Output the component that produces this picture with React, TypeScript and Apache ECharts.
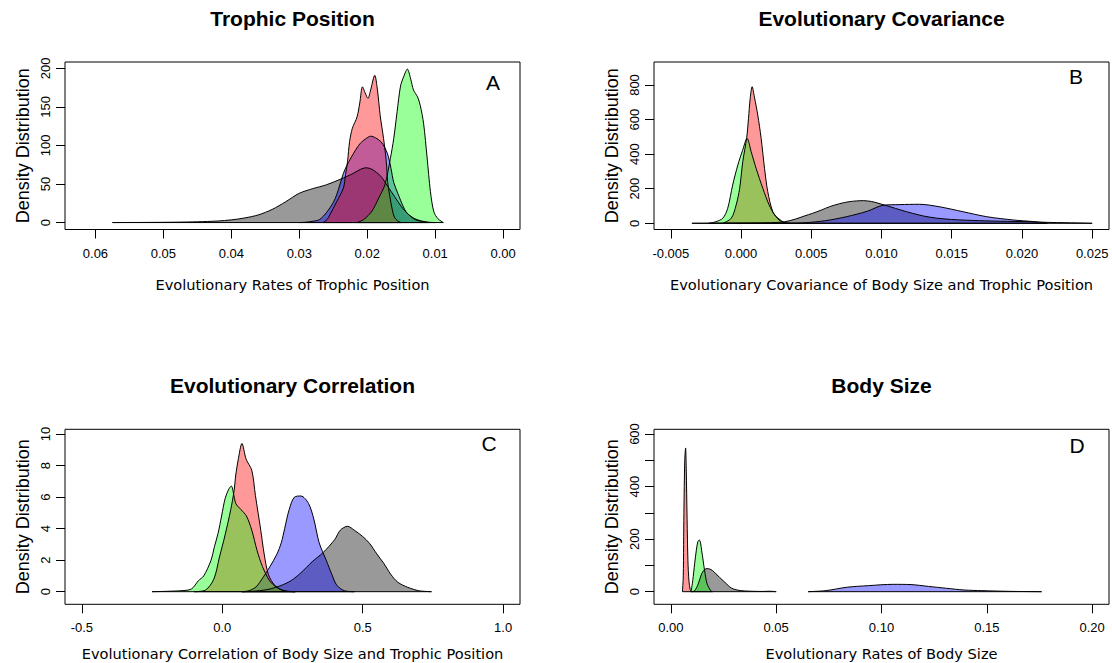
import React, { useEffect, useRef } from "react";
import * as echarts from "echarts";

// ---------- Panel A: Trophic Position ----------
const aGray: number[][] = [[0.0575,0],[0.052,0.2],[0.048,0.5],[0.045,1],[0.042,2],[0.040,3.5],[0.038,6],[0.036,10],[0.034,17],[0.032,27],[0.030,38],[0.028,44],[0.026,49],[0.024,56],[0.022,64],[0.021,69],[0.0202,71],[0.0193,69],[0.018,60],[0.017,47],[0.016,34],[0.015,21],[0.014,11],[0.013,5],[0.012,2],[0.011,0.5],[0.010,0]];
const aBlue: number[][] = [[0.030,0],[0.029,0.5],[0.028,1.7],[0.027,4],[0.026,13],[0.025,26],[0.0245,36],[0.024,50],[0.0235,64],[0.023,74],[0.022,90],[0.021,103],[0.020,110],[0.0195,112],[0.0188,110],[0.018,105],[0.0174,97],[0.0169,86],[0.0165,70],[0.0161,52],[0.0155,38],[0.0151,29],[0.0145,17],[0.014,11],[0.013,4],[0.012,1.5],[0.011,0]];
const aRed: number[][] = [[0.0265,0],[0.0259,4],[0.0255,10],[0.0245,27],[0.0235,45],[0.0232,62],[0.0229,79],[0.0226,105],[0.0222,122],[0.0215,137],[0.0211,155],[0.0207,176],[0.0203,168],[0.0199,161],[0.0195,172],[0.0189,191],[0.0185,172],[0.0181,139],[0.0176,109],[0.0172,79],[0.017,53],[0.0167,35],[0.0163,16],[0.016,7],[0.0155,2],[0.015,0]];
const aGreen: number[][] = [[0.0215,0],[0.0205,4],[0.0193,15],[0.0183,32],[0.0174,49],[0.0166,83],[0.0161,109],[0.0156,144],[0.0151,177],[0.0146,190],[0.0141,199],[0.0136,186],[0.0132,172],[0.0126,163],[0.0122,152],[0.0117,128],[0.0112,85],[0.0107,40],[0.0102,14],[0.0096,5],[0.0088,0]];

// ---------- Panel B: Evolutionary Covariance ----------
const bGray: number[][] = [[-0.0035,0],[-0.002,0.5],[0.000,1],[0.002,3],[0.0031,9],[0.0039,25],[0.0045,42],[0.0051,58],[0.0057,76],[0.0063,96],[0.0070,113],[0.0077,125],[0.0087,131],[0.0093,126],[0.0099,113],[0.0106,96],[0.0114,76],[0.0122,58],[0.013,42],[0.0139,30],[0.015,22],[0.016,18],[0.017,15],[0.0185,12],[0.0205,9],[0.022,5],[0.024,2],[0.025,0]];
const bBlue: number[][] = [[0.003,0],[0.0045,3],[0.006,15],[0.0075,38],[0.009,70],[0.0101,104],[0.0113,108],[0.0127,110],[0.0141,96],[0.0158,67],[0.0175,38],[0.0194,19],[0.0208,10],[0.0218,0]];
const bRed: number[][] = [[-0.0013,0],[-0.0007,29],[-0.00035,106],[-0.0001,202],[0.00012,356],[0.0004,495],[0.00053,607],[0.00065,723],[0.00079,790],[0.00095,730],[0.00119,626],[0.00143,491],[0.00167,318],[0.0019,183],[0.00226,67],[0.0027,19],[0.0031,0]];
const bGreen: number[][] = [[-0.0023,0],[-0.0018,9],[-0.0013,29],[-0.00095,87],[-0.0006,221],[-0.00023,337],[0.0001,420],[0.00043,491],[0.00072,414],[0.00107,318],[0.00155,202],[0.002,106],[0.0024,48],[0.0029,13],[0.0032,2],[0.0035,0]];

// ---------- Panel C: Evolutionary Correlation ----------
const cGray: number[][] = [[0.07,0],[0.12,0.04],[0.17,0.17],[0.21,0.4],[0.245,0.7],[0.28,1.2],[0.32,1.9],[0.36,2.5],[0.40,3.3],[0.42,3.9],[0.446,4.15],[0.47,3.9],[0.50,3.5],[0.525,3.05],[0.55,2.4],[0.575,1.8],[0.60,1.1],[0.625,0.6],[0.66,0.28],[0.70,0.06],[0.745,0]];
const cBlue: number[][] = [[0.07,0],[0.095,0.06],[0.12,0.3],[0.145,0.9],[0.17,1.6],[0.195,2.4],[0.21,3.1],[0.222,4.0],[0.238,5.2],[0.257,6.0],[0.28,6.07],[0.307,5.6],[0.326,4.6],[0.345,3.1],[0.37,2.0],[0.39,1.1],[0.408,0.4],[0.435,0.06],[0.47,0]];
const cRed: number[][] = [[-0.1,0],[-0.06,0.1],[-0.03,0.8],[-0.01,2.2],[0.01,3.6],[0.03,5.2],[0.042,6.4],[0.048,7.4],[0.057,8.4],[0.07,9.4],[0.085,8.4],[0.105,7.7],[0.118,6.1],[0.137,3.9],[0.149,2.4],[0.164,1.1],[0.187,0.4],[0.22,0.06],[0.26,0]];
const cGreen: number[][] = [[-0.25,0],[-0.15,0.06],[-0.11,0.17],[-0.085,0.7],[-0.066,1.0],[-0.04,2.0],[-0.028,2.85],[-0.015,3.7],[-0.0025,4.8],[0.01,5.9],[0.023,6.5],[0.032,6.7],[0.048,5.6],[0.067,5.2],[0.086,4.8],[0.105,3.9],[0.124,2.6],[0.143,1.6],[0.168,0.7],[0.193,0.28],[0.22,0.06],[0.26,0]];

// ---------- Panel D: Body Size ----------
const dGray: number[][] = [[0.0096,0],[0.0113,4],[0.013,30],[0.0146,68],[0.016,84],[0.0172,88],[0.0185,86],[0.0197,81],[0.0214,68],[0.0231,55],[0.0248,42],[0.0264,30],[0.028,18],[0.0298,10],[0.0332,4],[0.04,1.3],[0.044,1],[0.047,1.8],[0.05,0]];
const dBlue: number[][] = [[0.0652,0],[0.0736,4],[0.0837,17],[0.0938,23],[0.1056,28],[0.114,27],[0.1224,20],[0.1308,13],[0.1392,6.4],[0.1476,4],[0.161,1.3],[0.176,0]];
const dRed: number[][] = [[0.0055,0],[0.0059,60],[0.0062,300],[0.0066,500],[0.0070,547],[0.0073,470],[0.0077,280],[0.0081,120],[0.0086,40],[0.0092,8],[0.0097,0]];
const dGreen: number[][] = [[0.0096,0],[0.0104,42],[0.0113,107],[0.0121,158],[0.0128,190],[0.0135,197],[0.0141,185],[0.0146,158],[0.0153,120],[0.016,81],[0.0172,30],[0.0189,4],[0.0197,0]];

// ---------- Texts and ticks ----------
const panelTitles = ["Trophic Position", "Evolutionary Covariance", "Evolutionary Correlation", "Body Size"];
const panelLetters = ["A", "B", "C", "D"];
const xNames = [
  "Evolutionary Rates of Trophic Position",
  "Evolutionary Covariance of Body Size and Trophic Position",
  "Evolutionary Correlation of Body Size and Trophic Position",
  "Evolutionary Rates of Body Size",
];
const yName = "Density Distribution";

const aXTicks = [0.06, 0.05, 0.04, 0.03, 0.02, 0.01, 0.0];
const aYTicks = [0, 50, 100, 150, 200];
const bXTicks = [-0.005, 0, 0.005, 0.01, 0.015, 0.02, 0.025];
const bYTicks = [0, 200, 400, 600, 800];
const cXTicks = [-0.5, 0, 0.5, 1.0];
const cYTicks = [0, 2, 4, 6, 8, 10];
const dXTicks = [0, 0.05, 0.1, 0.15, 0.2];
const dYTicks = [0, 100, 200, 300, 400, 500, 600];
const dYLabels = [0, 200, 400, 600];

const fills = ["rgba(0,0,0,0.4)", "rgba(0,0,255,0.4)", "rgba(255,0,0,0.4)", "rgba(0,255,0,0.4)"];

const panels = [
  { grid: { left: 65, top: 62, width: 455, height: 167.5 }, xMin: -0.00248, xMax: 0.06448, inverse: true, yMin: -9, yMax: 208.2,
    xTicks: aXTicks, xDec: 2, yTicks: aYTicks, yLabels: aYTicks, curves: [aGray, aBlue, aRed, aGreen], xGap: 47,
    title: [292.5, 18], letter: [493, 82] },
  { grid: { left: 654, top: 62, width: 455, height: 167.5 }, xMin: -0.0062, xMax: 0.0262, inverse: false, yMin: -35.9, yMax: 933,
    xTicks: bXTicks, xDec: 3, yTicks: bYTicks, yLabels: bYTicks, curves: [bGray, bBlue, bRed, bGreen], xGap: 47,
    title: [881.5, 18], letter: [1076, 76] },
  { grid: { left: 65, top: 429.3, width: 455, height: 175 }, xMin: -0.56, xMax: 1.06, inverse: false, yMin: -0.8, yMax: 10.3,
    xTicks: cXTicks, xDec: 1, yTicks: cYTicks, yLabels: cYTicks, curves: [cGray, cBlue, cRed, cGreen], xGap: 42,
    title: [292.5, 385], letter: [489, 443] },
  { grid: { left: 654, top: 429.3, width: 455, height: 175 }, xMin: -0.008, xMax: 0.208, inverse: false, yMin: -48, yMax: 618,
    xTicks: dXTicks, xDec: 2, yTicks: dYTicks, yLabels: dYLabels, curves: [dGray, dBlue, dRed, dGreen], xGap: 42,
    title: [881.5, 385], letter: [1077, 445] },
];

export default function App() {
  const ref = useRef<HTMLDivElement>(null);
  useEffect(() => {
    document.body.style.margin = "0";
    if (!ref.current) return;
    const chart = echarts.init(ref.current, undefined, { renderer: "svg" });
    const grids: any[] = [];
    const xAxes: any[] = [];
    const yAxes: any[] = [];
    const series: any[] = [];
    const graphics: any[] = [];
    panels.forEach((p, i) => {
      grids.push({ ...p.grid, show: true, borderColor: "#000", borderWidth: 1, backgroundColor: "transparent", containLabel: false });
      xAxes.push({
        gridIndex: i, type: "value", min: p.xMin, max: p.xMax, inverse: p.inverse, position: "bottom",
        axisLine: { show: false, onZero: false }, splitLine: { show: false },
        axisTick: { show: true, customValues: p.xTicks, length: 9, lineStyle: { color: "#000", width: 1 } },
        axisLabel: { customValues: p.xTicks, formatter: (v: number) => v.toFixed(p.xDec), margin: 17, fontSize: 13,
          fontFamily: "Liberation Sans", color: "#000" },
        name: xNames[i], nameLocation: "middle", nameGap: p.xGap,
        nameTextStyle: { fontFamily: "DejaVu Sans", fontSize: 14.6, color: "#000" },
      });
      yAxes.push({
        gridIndex: i, type: "value", min: p.yMin, max: p.yMax, position: "left",
        axisLine: { show: false, onZero: false }, splitLine: { show: false },
        axisTick: { show: true, customValues: p.yTicks, length: 9, lineStyle: { color: "#000", width: 1 } },
        axisLabel: { customValues: p.yLabels, rotate: 90, margin: 13, fontSize: 13, fontFamily: "Liberation Sans",
          color: "#000", formatter: (v: number) => String(v) },
        name: yName, nameLocation: "middle", nameGap: 33, nameRotate: 90,
        nameTextStyle: { fontFamily: "Liberation Sans", fontSize: 18, color: "#000" },
      });
      p.curves.forEach((c, j) => {
        series.push({
          type: "line", xAxisIndex: i, yAxisIndex: i, data: c, smooth: 0.3, symbol: "none", showSymbol: false,
          lineStyle: { color: "#000", width: 1 }, areaStyle: { color: fills[j], opacity: 1 }, silent: true,
        });
        series.push({
          type: "line", xAxisIndex: i, yAxisIndex: i, data: [[c[0][0], 0], [c[c.length - 1][0], 0]],
          symbol: "none", showSymbol: false, lineStyle: { color: "#000", width: 1 }, silent: true,
        });
      });
      graphics.push({
        type: "text", x: p.title[0], y: p.title[1],
        style: { text: panelTitles[i], fill: "#000", font: 'bold 21px "Liberation Sans"', align: "center", verticalAlign: "middle",
          textAlign: "center", textVerticalAlign: "middle" },
      });
      graphics.push({
        type: "text", x: p.letter[0], y: p.letter[1],
        style: { text: panelLetters[i], fill: "#000", font: '21px "Liberation Sans"', align: "center", verticalAlign: "middle",
          textAlign: "center", textVerticalAlign: "middle" },
      });
    });
    chart.setOption({
      animation: false,
      backgroundColor: "#fff",
      grid: grids,
      xAxis: xAxes,
      yAxis: yAxes,
      series,
      graphic: graphics,
    });
    return () => chart.dispose();
  }, []);
  return <div ref={ref} style={{ width: 1112, height: 663 }} />;
}
